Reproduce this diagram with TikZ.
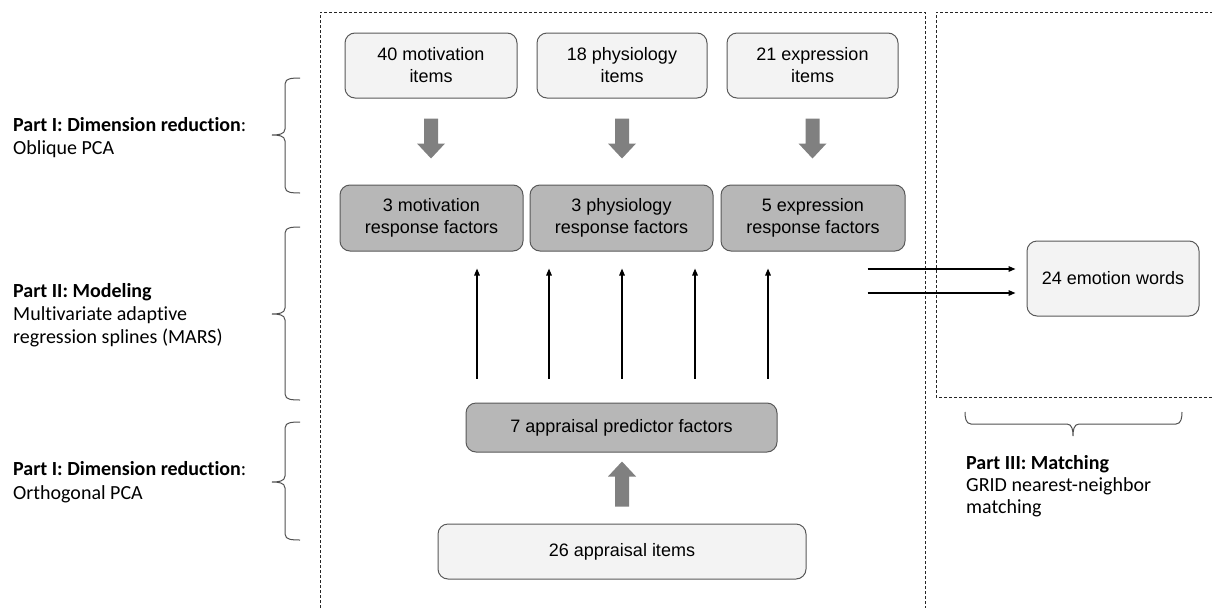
\documentclass[tikz,border=0pt]{standalone}
\usepackage{fontspec}
\setmainfont{Liberation Sans}
\newfontfamily\labfont[Ligatures={NoCommon}]{Carlito}
\usetikzlibrary{arrows.meta,calc}
\definecolor{boxline}{HTML}{595959}
\definecolor{lightfill}{HTML}{F3F3F3}
\definecolor{darkfill}{HTML}{B7B7B7}
\definecolor{fatgray}{HTML}{808080}
\definecolor{braceline}{HTML}{505050}
\begin{document}
\begin{tikzpicture}[x=1pt,y=-1pt,
  boxbase/.style={draw=boxline, line width=1pt, rounded corners=10pt, align=center, inner sep=0pt, font=\fontsize{18}{22}\selectfont},
  lightbox/.style={boxbase, fill=lightfill},
  darkbox/.style={boxbase, fill=darkfill},
  dashframe/.style={draw=black!85, line width=0.9pt, dash pattern=on 3pt off 2pt},
  bracepath/.style={draw=braceline, line width=1pt},
  thinarrow/.style={draw=black, line width=1.4pt, -{Triangle[length=7pt,width=5.5pt]}},
  labtext/.style={font=\labfont\fontsize{20}{24}\selectfont, anchor=base west, inner sep=0pt},
  fatdown/.pic={\fill[fatgray] (-7,0) -- (7,0) -- (7,25) -- (14,25) -- (0,40) -- (-14,25) -- (-7,25) -- cycle;},
  fatup/.pic={\fill[fatgray] (-7,0) -- (7,0) -- (7,-30) -- (14,-30) -- (0,-45) -- (-14,-30) -- (-7,-30) -- cycle;},
]
\useasboundingbox (0,0) rectangle (1212,608);

% dashed frames
\draw[dashframe] (320,608) -- (320,12) -- (925,12) -- (925,608);
\draw[dashframe] (1212,397) -- (936,397) -- (936,12) -- (1212,12);

% item boxes
\node[lightbox, minimum width=172pt, minimum height=65pt] (mitems) at (431,65.5) {40 motivation\\items};
\node[lightbox, minimum width=170pt, minimum height=65pt] (pitems) at (622,65.5) {18 physiology\\items};
\node[lightbox, minimum width=171pt, minimum height=65pt] (eitems) at (812.5,65.5) {21 expression\\items};

% response factor boxes
\node[darkbox, minimum width=183pt, minimum height=66pt] (mresp) at (431.5,218) {3 motivation\\response factors};
\node[darkbox, minimum width=183pt, minimum height=66pt] (presp) at (621.5,218) {3 physiology\\response factors};
\node[darkbox, minimum width=184pt, minimum height=66pt] (eresp) at (813,218) {5 expression\\response factors};

% predictor and appraisal items
\node[darkbox, minimum width=311pt, minimum height=49pt] (pred) at (621.5,427.5) {7 appraisal predictor factors};
\node[lightbox, minimum width=368pt, minimum height=55pt] (aitems) at (622,551.5) {26 appraisal items};

% emotion words
\node[lightbox, minimum width=172pt, minimum height=75pt] (emo) at (1113,278.5) {24 emotion words};

% fat arrows
\pic at ([yshift=-20pt]mitems.south) {fatdown};
\pic at ([yshift=-20pt]pitems.south) {fatdown};
\pic at ([yshift=-20pt]eitems.south) {fatdown};
\pic at ([yshift=17pt]aitems.north) {fatup};

% thin arrows from predictors to response factors
\foreach \i/\x in {1/477,2/549,3/622,4/695,5/768}{
  \coordinate (t\i) at (\x,0);
  \draw[thinarrow] ([yshift=24pt]pred.north -| t\i) -- ([yshift=-17pt]mresp.south -| t\i);
}

% arrows to emotion words
\draw[thinarrow] ([xshift=-159pt,yshift=9.5pt]emo.west) -- ([xshift=-11pt,yshift=9.5pt]emo.west);
\draw[thinarrow] ([xshift=-159pt,yshift=-14.5pt]emo.west) -- ([xshift=-11pt,yshift=-14.5pt]emo.west);

% left braces
\draw[bracepath] (300,78) to[out=180,in=90] (285,84) -- (285,129) to[out=270,in=0] (272,135) to[out=0,in=90] (285,141) -- (285,187) to[out=270,in=180] (300,193);
\draw[bracepath] (300,227) to[out=180,in=90] (285,233) -- (285,308) to[out=270,in=0] (272,314) to[out=0,in=90] (285,320) -- (285,394) to[out=270,in=180] (300,400);
\draw[bracepath] (300,422) to[out=180,in=90] (285,428) -- (285,476) to[out=270,in=0] (272,482) to[out=0,in=90] (285,488) -- (285,534) to[out=270,in=180] (300,540);

% bottom brace
\draw[bracepath] (965,412) to[out=270,in=180] (971,424) -- (1067,424) to[out=0,in=90] (1073,436) to[out=90,in=180] (1079,424) -- (1176,424) to[out=0,in=270] (1182,412);

% left labels
\node[labtext] (l1a) at (13,131) {\textbf{Part I: Dimension reduction}:};
\node[labtext] (l1b) at (13,154) {Oblique PCA};
\node[labtext] (l2a) at (13,297) {\textbf{Part II: Modeling}};
\node[labtext] (l2b) at (13,320) {Multivariate adaptive};
\node[labtext] (l2c) at (13,343) {regression splines (MARS)};
\node[labtext] (l3a) at (13,475) {\textbf{Part I: Dimension reduction}:};
\node[labtext] (l3b) at (13,499) {Orthogonal PCA};

% bottom-right label
\node[labtext] (r1) at (966,469) {\textbf{Part III: Matching}};
\node[labtext] (r2) at (966,491) {GRID nearest-neighbor};
\node[labtext] (r3) at (966,513) {matching};
\end{tikzpicture}
\end{document}
